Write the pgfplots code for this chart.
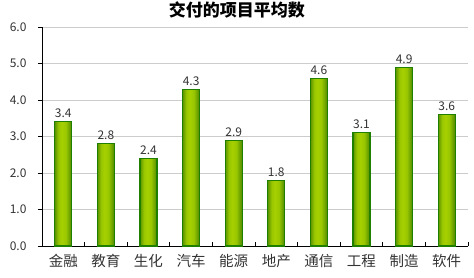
\documentclass[border=0pt]{standalone}
\usepackage{fontspec}
\setmainfont{Noto Sans CJK SC}
\usepackage{pgfplots}
\pgfplotsset{compat=1.18}
\definecolor{barline}{HTML}{1F8000}
\definecolor{bardarkL}{HTML}{5C9400}
\definecolor{bardarkR}{HTML}{4E8800}
\definecolor{barlight}{HTML}{A6D000}
\definecolor{barmid}{HTML}{98C600}
\definecolor{gridc}{HTML}{CCCCCC}
\definecolor{txt}{HTML}{333333}
\pgfdeclarehorizontalshading{barshade}{100bp}{color(0bp)=(bardarkL); color(25bp)=(bardarkL); color(36bp)=(barmid); color(46bp)=(barlight); color(58bp)=(barmid); color(75bp)=(bardarkR); color(100bp)=(bardarkR)}
\pgfplotsset{mybar/.style={ybar, bar width=0.4, bar shift=0pt, draw=barline, line width=1.1pt, shading=barshade}}
\begin{document}
\begin{tikzpicture}
\begin{axis}[
  scale only axis,
  width=426pt, height=219pt,
  xmin=-0.5, xmax=9.5,
  ymin=0, ymax=6,
  axis lines*=left,
  axis line style={black, line width=0.8pt},
  ytick={0,1,2,3,4,5,6},
  ymajorgrids,
  grid style={gridc, line width=0.6pt},
  xtick={0,...,9},
  xticklabels={金融,教育,生化,汽车,能源,地产,通信,工程,制造,软件},
  minor xtick={0.5,1.5,...,9.5},
  major x tick style={draw=none},
  minor x tick style={black, line width=0.8pt, yshift=4pt},
  minor tick length=4pt,
  major tick length=4pt,
  tick align=outside,
  y tick style={black, line width=0.6pt},
  /pgf/number format/fixed,
  /pgf/number format/fixed zerofill,
  /pgf/number format/precision=1,
  /pgf/number format/assume math mode=true,
  tick label style={font=\fontsize{12}{14}\selectfont, text=txt},
  xticklabel style={font=\fontsize{14.5}{16}\selectfont, yshift=-1pt},
  yticklabel style={xshift=-8pt},
  title={交付的项目平均数},
  title style={font=\bfseries\fontsize{17}{20}\selectfont, yshift=-1pt, xshift=-18pt},
  nodes near coords,
  nodes near coords style={font=\fontsize{12}{14}\selectfont, text=txt},
  every node near coord/.append style={yshift=0pt},
  clip=false,
]
\addplot[mybar] coordinates {(0,3.4)};
\addplot[mybar] coordinates {(1,2.8)};
\addplot[mybar] coordinates {(2,2.4)};
\addplot[mybar] coordinates {(3,4.3)};
\addplot[mybar] coordinates {(4,2.9)};
\addplot[mybar] coordinates {(5,1.8)};
\addplot[mybar] coordinates {(6,4.6)};
\addplot[mybar] coordinates {(7,3.1)};
\addplot[mybar] coordinates {(8,4.9)};
\addplot[mybar] coordinates {(9,3.6)};
\end{axis}
\pgfresetboundingbox
\path (-42pt,-31pt) rectangle (432pt,246pt);
\end{tikzpicture}
\end{document}
